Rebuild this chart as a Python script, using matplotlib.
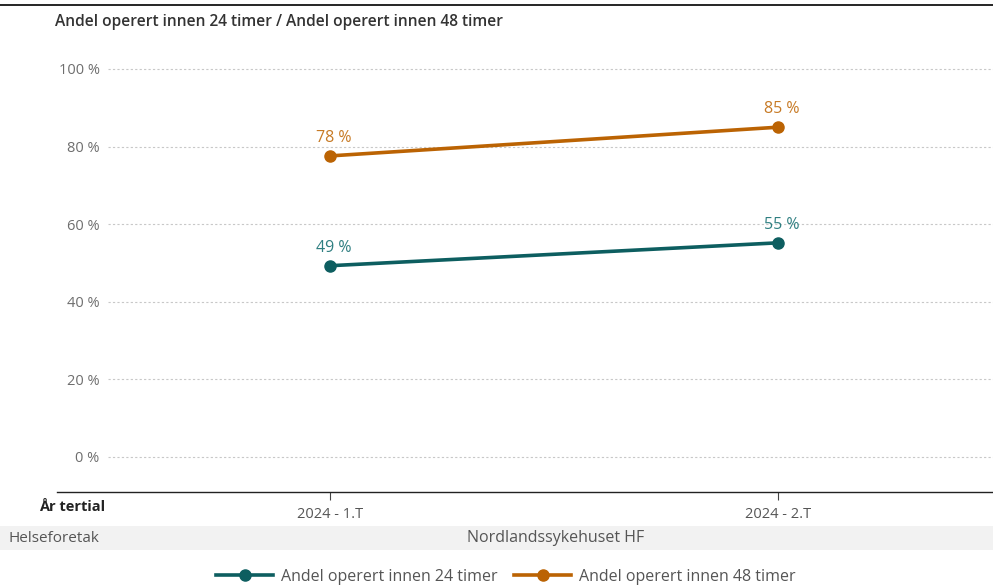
import matplotlib
matplotlib.use("Agg")
from matplotlib import pyplot as plt
from matplotlib.lines import Line2D
from matplotlib.patches import Rectangle

# data
periods = ["2024 - 1.T", "2024 - 2.T"]
andel_24 = [49.3, 55.2]
andel_48 = [77.6, 85.0]
y_ticks = [0, 20, 40, 60, 80, 100]
series_names = ["Andel operert innen 24 timer", "Andel operert innen 48 timer"]

TEAL = "#0d5e60"
ORANGE = "#bb6303"

plt.rcParams["font.family"] = ["Open Sans", "DejaVu Sans"]

W, H = 993, 586
fig = plt.figure(figsize=(W / 100, H / 100), dpi=100)


def fx(px):
    return px / W


def fy(py):
    return 1 - py / H


# axes: left 108px, right 993px, top 40px, bottom 492px
ax = fig.add_axes([fx(108), fy(492), fx(993 - 108), (492 - 40) / H])
x = list(range(len(periods)))
ax.set_xlim((108 - 330) / 448, (993 - 330) / 448)
ax.set_ylim((457 - 492) / 3.88, (457 - 40) / 3.88)

for yt in y_ticks:
    ax.axhline(yt, color="#c8c8c8", lw=0.8, ls=(0, (2, 2)), zorder=1)

ax.plot(x, andel_24, color=TEAL, lw=2.6, marker="o", ms=8, zorder=3)
ax.plot(x, andel_48, color=ORANGE, lw=2.6, marker="o", ms=8, zorder=3)

for xi, v in zip(x, andel_24):
    ax.annotate(f"{round(v)} %", (xi, v), xytext=(3, 7), textcoords="offset points",
                ha="center", va="bottom", color="#2f7f81", fontsize=11.5)
for xi, v in zip(x, andel_48):
    ax.annotate(f"{round(v)} %", (xi, v), xytext=(3, 7), textcoords="offset points",
                ha="center", va="bottom", color="#c77a25", fontsize=11.5)

for s in ax.spines.values():
    s.set_visible(False)
ax.set_yticks(y_ticks)
ax.set_yticklabels([f"{t} %" for t in y_ticks], color="#6e6e6e", fontsize=10.5)
ax.tick_params(axis="y", length=0, pad=6)
ax.set_xticks(x)
ax.set_xticklabels(periods, color="#555555", fontsize=10.5)
ax.tick_params(axis="x", length=6, width=0.8, color="#444444", pad=5)
ax.patch.set_alpha(0)

# top rule and x-axis line
fig.add_artist(Line2D([0, 1], [fy(5), fy(5)], color="black", lw=1.2))
fig.add_artist(Line2D([fx(57), 1], [fy(492), fy(492)], color="#222222", lw=1.0))

fig.text(fx(55), fy(22), "Andel operert innen 24 timer / Andel operert innen 48 timer",
         fontsize=11.2, fontweight="semibold", color="#333333", va="center")
fig.text(fx(72), fy(507), "År tertial", fontsize=10.5, fontweight="bold",
         color="#222222", ha="center", va="center")

# helseforetak band
fig.add_artist(Rectangle((0, fy(550)), 1, (550 - 526) / H, color="#f2f2f2", lw=0, zorder=0))
fig.text(fx(8), fy(538), "Helseforetak", fontsize=11, color="#555555", va="center")
fig.text(fx(556), fy(538), "Nordlandssykehuset HF", fontsize=11.5, color="#555555",
         ha="center", va="center")

# legend
handles = [Line2D([], [], color=TEAL, lw=2.6, marker="o", ms=8),
           Line2D([], [], color=ORANGE, lw=2.6, marker="o", ms=8)]
fig.legend(handles, series_names, loc="center", bbox_to_anchor=(fx(506), fy(577)),
           ncol=2, frameon=False, fontsize=11.5, handlelength=3.6, columnspacing=1.0,
           handletextpad=0.5, labelcolor="#555555")

fig.savefig("out.png", dpi=100)
